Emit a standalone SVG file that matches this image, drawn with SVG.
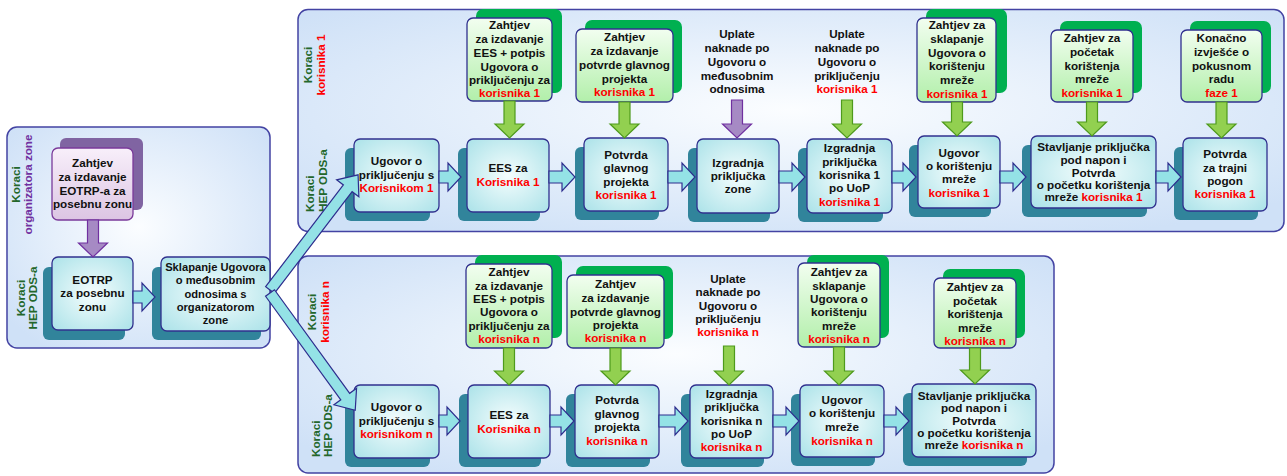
<svg xmlns="http://www.w3.org/2000/svg" width="1287" height="476" viewBox="0 0 1287 476">
<defs>
<radialGradient id="gPanel" cx="50%" cy="45%" r="65%"><stop offset="0" stop-color="#fbfdff"/><stop offset="1" stop-color="#cfe1f7"/></radialGradient>
<radialGradient id="gProc" cx="50%" cy="50%" r="65%"><stop offset="0" stop-color="#f5fdfd"/><stop offset="1" stop-color="#b0e4ea"/></radialGradient>
<linearGradient id="gReq" x1="0" y1="0" x2="0" y2="1"><stop offset="0" stop-color="#f2fef0"/><stop offset="1" stop-color="#b2efaa"/></linearGradient>
<linearGradient id="gPur" x1="0" y1="0" x2="0" y2="1"><stop offset="0" stop-color="#f8effa"/><stop offset="1" stop-color="#dcc5e3"/></linearGradient>
<path id="branch" d="M0,-5.5 L128,-5.5 L128,-14 L145,0 L128,14 L128,5.5 L0,5.5 Z"/>
<style>
.panel{fill:url(#gPanel);stroke:#4343a3;stroke-width:1.5}
.box{fill:url(#gProc);stroke:#30308e;stroke-width:1.3}
.sh{fill:#31849b}
.req{fill:url(#gReq);stroke:#30308e;stroke-width:1.3}
.gsh{fill:#00b050}
.preq{fill:url(#gPur);stroke:#7a3a9a;stroke-width:1.3}
.psh{fill:#8064a2}
.t{font-family:"Liberation Sans",Arial,sans-serif;font-weight:bold;font-size:11.7px;fill:#111;text-anchor:middle}
.t2{font-size:11.2px}
.r{fill:#ff0000}
.lab{font-family:"Liberation Sans",Arial,sans-serif;font-weight:bold;font-size:11.7px;text-anchor:middle}
.st{text-anchor:start}
.kg{fill:#23672b}
.kp{fill:#7030a0}
.kr{fill:#ff0000}
.con{fill:#94e2e6;stroke:#2d2d8e;stroke-width:1.2}
.ga{fill:#92d050;stroke:#4e9a1c;stroke-width:1.2}
.pa{fill:#a68ac4;stroke:#7030a0;stroke-width:1.2}
</style>
</defs>

<g id="panels">
<rect class="panel" x="7" y="127" width="263" height="221" rx="10"/>
<rect class="panel" x="298" y="9.5" width="986" height="222" rx="10"/>
<rect class="panel" x="298" y="256" width="756" height="217" rx="10"/>
</g>

<g id="lane-labels">
<text class="lab kg" transform="translate(20,184.5) rotate(-90)">Koraci</text>
<text class="lab kp" transform="translate(32,184.5) rotate(-90)">organizatora zone</text>
<text class="lab kg" transform="translate(25,298) rotate(-90)">Koraci</text>
<text class="lab kg" transform="translate(37,298) rotate(-90)">HEP ODS-a</text>
<text class="lab kg" transform="translate(312,65) rotate(-90)">Koraci</text>
<text class="lab kr" transform="translate(325,65) rotate(-90)">korisnika 1</text>
<text class="lab st kg" transform="translate(314,212) rotate(-90)">Koraci</text>
<text class="lab st kg" transform="translate(327,212) rotate(-90)">HEP ODS-a</text>
<text class="lab kg" transform="translate(316,312) rotate(-90)">Koraci</text>
<text class="lab kr" transform="translate(329,312) rotate(-90)">korisnika n</text>
<text class="lab st kg" transform="translate(320,457) rotate(-90)">Koraci</text>
<text class="lab st kg" transform="translate(332,457) rotate(-90)">HEP ODS-a</text>
</g>

<!-- left panel -->
<g id="n-zahtjev-eotrp">
<rect class="psh" x="60" y="138" width="83" height="72" rx="6"/>
<rect class="preq" x="52" y="148" width="81" height="72" rx="6"/>
<text class="t"><tspan x="92.5" y="167">Zahtjev</tspan><tspan x="92.5" y="181">za izdavanje</tspan><tspan x="92.5" y="195">EOTRP-a za</tspan><tspan x="92.5" y="208">posebnu zonu</tspan></text>
</g>
<g id="n-eotrp">
<rect class="sh" x="43" y="267" width="82" height="73" rx="6"/>
<rect class="box" x="52" y="257" width="81" height="73" rx="6"/>
<text class="t"><tspan x="92.5" y="284">EOTRP</tspan><tspan x="92.5" y="297">za posebnu</tspan><tspan x="92.5" y="311">zonu</tspan></text>
</g>
<g id="n-sklapanje-zona">
<rect class="sh" x="152" y="267" width="109" height="73" rx="6"/>
<rect class="box" x="161" y="257" width="109" height="74" rx="6"/>
<text class="t t2"><tspan x="215.5" y="271">Sklapanje Ugovora</tspan><tspan x="215.5" y="284">o međusobnim</tspan><tspan x="215.5" y="297.5">odnosima s</tspan><tspan x="215.5" y="311">organizatorom</tspan><tspan x="215.5" y="324">zone</tspan></text>
</g>

<!-- top row requests -->
<g id="r1-zahtjev-ees">
<rect class="gsh" x="476" y="9" width="86" height="84" rx="7"/>
<rect class="req" x="467" y="18" width="85" height="83" rx="6"/>
<text class="t"><tspan x="509.5" y="29">Zahtjev</tspan><tspan x="509.5" y="43">za izdavanje</tspan><tspan x="509.5" y="57">EES + potpis</tspan><tspan x="509.5" y="71">Ugovora o</tspan><tspan x="509.5" y="84">priključenju za</tspan><tspan x="509.5" y="97" class="r">korisnika 1</tspan></text>
</g>
<g id="r1-zahtjev-potvrde">
<rect class="gsh" x="585" y="20" width="97" height="73" rx="7"/>
<rect class="req" x="576" y="29" width="97" height="73" rx="6"/>
<text class="t"><tspan x="624.5" y="41">Zahtjev</tspan><tspan x="624.5" y="55">za izdavanje</tspan><tspan x="624.5" y="69">potvrde glavnog</tspan><tspan x="624.5" y="83">projekta</tspan><tspan x="624.5" y="96" class="r">korisnika 1</tspan></text>
</g>
<g id="r1-uplate-medusobni">
<text class="t"><tspan x="737" y="38">Uplate</tspan><tspan x="737" y="52">naknade po</tspan><tspan x="737" y="66">Ugovoru o</tspan><tspan x="737" y="80">međusobnim</tspan><tspan x="737" y="93">odnosima</tspan></text>
</g>
<g id="r1-uplate-prikljucenje">
<text class="t"><tspan x="847" y="38">Uplate</tspan><tspan x="847" y="52">naknade po</tspan><tspan x="847" y="66">Ugovoru o</tspan><tspan x="847" y="80">priključenju</tspan><tspan x="847" y="93" class="r">korisnika 1</tspan></text>
</g>
<g id="r1-zahtjev-sklapanje">
<rect class="gsh" x="926" y="9" width="81" height="84" rx="7"/>
<rect class="req" x="917" y="18" width="79" height="84" rx="6"/>
<text class="t"><tspan x="957" y="29">Zahtjev za</tspan><tspan x="957" y="43">sklapanje</tspan><tspan x="957" y="57">Ugovora o</tspan><tspan x="957" y="70">korištenju</tspan><tspan x="957" y="84">mreže</tspan><tspan x="957" y="98" class="r">korisnika 1</tspan></text>
</g>
<g id="r1-zahtjev-pocetak">
<rect class="gsh" x="1060" y="21" width="82" height="72" rx="7"/>
<rect class="req" x="1051" y="30" width="82" height="72" rx="6"/>
<text class="t"><tspan x="1092" y="42">Zahtjev za</tspan><tspan x="1092" y="56">početak</tspan><tspan x="1092" y="70">korištenja</tspan><tspan x="1092" y="83">mreže</tspan><tspan x="1092" y="97" class="r">korisnika 1</tspan></text>
</g>
<g id="r1-konacno">
<rect class="gsh" x="1190" y="21" width="81" height="72" rx="7"/>
<rect class="req" x="1181" y="30" width="81" height="72" rx="6"/>
<text class="t"><tspan x="1221.5" y="42">Konačno</tspan><tspan x="1221.5" y="56">izvješće o</tspan><tspan x="1221.5" y="70">pokusnom</tspan><tspan x="1221.5" y="83">radu</tspan><tspan x="1221.5" y="97" class="r">faze 1</tspan></text>
</g>

<!-- top row process -->
<g id="p1-ugovor-prikljucenje">
<rect class="sh" x="345" y="148" width="85" height="73" rx="6"/>
<rect class="box" x="354" y="139" width="85" height="73" rx="6"/>
<text class="t"><tspan x="396.5" y="165">Ugovor o</tspan><tspan x="396.5" y="179">priključenju s</tspan><tspan x="396.5" y="192" class="r">Korisnikom 1</tspan></text>
</g>
<g id="p1-ees">
<rect class="sh" x="458" y="148" width="82" height="73" rx="6"/>
<rect class="box" x="467" y="139" width="82" height="73" rx="6"/>
<text class="t"><tspan x="508" y="172">EES za</tspan><tspan x="508" y="186" class="r">Korisnika 1</tspan></text>
</g>
<g id="p1-potvrda-projekta">
<rect class="sh" x="575" y="147" width="84" height="73" rx="6"/>
<rect class="box" x="584" y="138" width="84" height="73" rx="6"/>
<text class="t"><tspan x="626" y="159">Potvrda</tspan><tspan x="626" y="172">glavnog</tspan><tspan x="626" y="186">projekta</tspan><tspan x="626" y="199" class="r">korisnika 1</tspan></text>
</g>
<g id="p1-izgradnja-zone">
<rect class="sh" x="688" y="148" width="82" height="74" rx="6"/>
<rect class="box" x="697" y="139" width="82" height="74" rx="6"/>
<text class="t"><tspan x="738" y="167">Izgradnja</tspan><tspan x="738" y="180">priključka</tspan><tspan x="738" y="193">zone</tspan></text>
</g>
<g id="p1-izgradnja-korisnika">
<rect class="sh" x="798" y="148" width="85" height="74" rx="6"/>
<rect class="box" x="807" y="139" width="85" height="74" rx="6"/>
<text class="t"><tspan x="849.5" y="152">Izgradnja</tspan><tspan x="849.5" y="166">priključka</tspan><tspan x="849.5" y="179">korisnika 1</tspan><tspan x="849.5" y="192">po UoP</tspan><tspan x="849.5" y="206" class="r">korisnika 1</tspan></text>
</g>
<g id="p1-ugovor-koristenje">
<rect class="sh" x="909" y="145" width="82" height="72" rx="6"/>
<rect class="box" x="918" y="136" width="82" height="72" rx="6"/>
<text class="t"><tspan x="959" y="157">Ugovor</tspan><tspan x="959" y="170">o korištenju</tspan><tspan x="959" y="183">mreže</tspan><tspan x="959" y="197" class="r">korisnika 1</tspan></text>
</g>
<g id="p1-stavljanje">
<rect class="sh" x="1022" y="145" width="125" height="72" rx="6"/>
<rect class="box" x="1031" y="136" width="125" height="72" rx="6"/>
<text class="t"><tspan x="1093.5" y="151">Stavljanje priključka</tspan><tspan x="1093.5" y="164">pod napon i</tspan><tspan x="1093.5" y="176.5">Potvrda</tspan><tspan x="1093.5" y="188.5">o početku korištenja</tspan><tspan x="1093.5" y="200.5">mreže <tspan class="r">korisnika 1</tspan></tspan></text>
</g>
<g id="p1-potvrda-trajni">
<rect class="sh" x="1174" y="147" width="84" height="73" rx="6"/>
<rect class="box" x="1183" y="138" width="84" height="73" rx="6"/>
<text class="t"><tspan x="1225" y="158">Potvrda</tspan><tspan x="1225" y="172">za trajni</tspan><tspan x="1225" y="185">pogon</tspan><tspan x="1225" y="198" class="r">korisnika 1</tspan></text>
</g>

<!-- bottom row requests -->
<g id="rn-zahtjev-ees">
<rect class="gsh" x="475" y="255" width="87" height="83" rx="7"/>
<rect class="req" x="466" y="264" width="86" height="84" rx="6"/>
<text class="t"><tspan x="509" y="276">Zahtjev</tspan><tspan x="509" y="290">za izdavanje</tspan><tspan x="509" y="303">EES + potpis</tspan><tspan x="509" y="316">Ugovora o</tspan><tspan x="509" y="330">priključenju za</tspan><tspan x="509" y="343" class="r">korisnika n</tspan></text>
</g>
<g id="rn-zahtjev-potvrde">
<rect class="gsh" x="576" y="266" width="97" height="73" rx="7"/>
<rect class="req" x="567" y="275" width="97" height="73" rx="6"/>
<text class="t"><tspan x="615.5" y="288">Zahtjev</tspan><tspan x="615.5" y="302">za izdavanje</tspan><tspan x="615.5" y="316">potvrde glavnog</tspan><tspan x="615.5" y="329">projekta</tspan><tspan x="615.5" y="342" class="r">korisnika n</tspan></text>
</g>
<g id="rn-uplate-prikljucenje">
<text class="t"><tspan x="728" y="283">Uplate</tspan><tspan x="728" y="296">naknade po</tspan><tspan x="728" y="310">Ugovoru o</tspan><tspan x="728" y="323">priključenju</tspan><tspan x="728" y="336" class="r">korisnika n</tspan></text>
</g>
<g id="rn-zahtjev-sklapanje">
<rect class="gsh" x="807" y="255" width="82" height="83" rx="7"/>
<rect class="req" x="798" y="263" width="82" height="84" rx="6"/>
<text class="t"><tspan x="839" y="276">Zahtjev za</tspan><tspan x="839" y="290">sklapanje</tspan><tspan x="839" y="303">Ugovora o</tspan><tspan x="839" y="316">korištenju</tspan><tspan x="839" y="330">mreže</tspan><tspan x="839" y="343" class="r">korisnika n</tspan></text>
</g>
<g id="rn-zahtjev-pocetak">
<rect class="gsh" x="943" y="269" width="82" height="69" rx="7"/>
<rect class="req" x="934" y="278" width="82" height="70" rx="6"/>
<text class="t"><tspan x="975" y="291">Zahtjev za</tspan><tspan x="975" y="305">početak</tspan><tspan x="975" y="318">korištenja</tspan><tspan x="975" y="332">mreže</tspan><tspan x="975" y="345" class="r">korisnika n</tspan></text>
</g>

<!-- bottom row process -->
<g id="pn-ugovor-prikljucenje">
<rect class="sh" x="345" y="394" width="85" height="73" rx="6"/>
<rect class="box" x="354" y="385" width="85" height="73" rx="6"/>
<text class="t"><tspan x="396.5" y="411">Ugovor o</tspan><tspan x="396.5" y="425">priključenju s</tspan><tspan x="396.5" y="438" class="r">korisnikom n</tspan></text>
</g>
<g id="pn-ees">
<rect class="sh" x="459" y="394" width="82" height="73" rx="6"/>
<rect class="box" x="468" y="385" width="82" height="73" rx="6"/>
<text class="t"><tspan x="509" y="419">EES za</tspan><tspan x="509" y="433" class="r">Korisnika n</tspan></text>
</g>
<g id="pn-potvrda-projekta">
<rect class="sh" x="566" y="394" width="84" height="73" rx="6"/>
<rect class="box" x="575" y="385" width="84" height="73" rx="6"/>
<text class="t"><tspan x="617" y="404">Potvrda</tspan><tspan x="617" y="418">glavnog</tspan><tspan x="617" y="431">projekta</tspan><tspan x="617" y="445" class="r">korisnika n</tspan></text>
</g>
<g id="pn-izgradnja-korisnika">
<rect class="sh" x="681" y="394" width="83" height="73" rx="6"/>
<rect class="box" x="690" y="385" width="83" height="73" rx="6"/>
<text class="t"><tspan x="731.5" y="398">Izgradnja</tspan><tspan x="731.5" y="411">priključka</tspan><tspan x="731.5" y="425">korisnika n</tspan><tspan x="731.5" y="438">po UoP</tspan><tspan x="731.5" y="451" class="r">korisnika n</tspan></text>
</g>
<g id="pn-ugovor-koristenje">
<rect class="sh" x="791" y="394" width="84" height="72" rx="6"/>
<rect class="box" x="800" y="385" width="84" height="72" rx="6"/>
<text class="t"><tspan x="842" y="404">Ugovor</tspan><tspan x="842" y="417">o korištenju</tspan><tspan x="842" y="431">mreže</tspan><tspan x="842" y="445" class="r">korisnika n</tspan></text>
</g>
<g id="pn-stavljanje">
<rect class="sh" x="903" y="393" width="124" height="73" rx="6"/>
<rect class="box" x="912" y="384" width="124" height="73" rx="6"/>
<text class="t"><tspan x="974" y="400">Stavljanje priključka</tspan><tspan x="974" y="412">pod napon i</tspan><tspan x="974" y="425">Potvrda</tspan><tspan x="974" y="437">o početku korištenja</tspan><tspan x="974" y="449">mreže <tspan class="r">korisnika n</tspan></tspan></text>
</g>

<g id="connectors">
<!-- left panel -->
<polygon class="pa" points="87.5,220 98.5,220 98.5,243 107.5,243 93,257 78.5,243 87.5,243"/>
<polygon class="con" points="133,291 142,291 142,283 155,297 142,311 142,303 133,303"/>
<use href="#branch" class="con" transform="translate(270,290) rotate(-52.6)"/>
<use href="#branch" class="con" transform="translate(270,293) rotate(54)"/>
<!-- top down arrows -->
<polygon class="ga" points="504,101 515,101 515,124 524,124 509.5,138 495,124 504,124"/>
<polygon class="ga" points="619,102 630,102 630,124 639,124 624.5,138 610,124 619,124"/>
<polygon class="pa" points="731.5,100 742.5,100 742.5,124 751.5,124 737,138 722.5,124 731.5,124"/>
<polygon class="ga" points="841.5,100 852.5,100 852.5,124 861.5,124 847,138 832.5,124 841.5,124"/>
<polygon class="ga" points="951.5,102 962.5,102 962.5,122 971.5,122 957,136 942.5,122 951.5,122"/>
<polygon class="ga" points="1086.5,102 1097.5,102 1097.5,122 1106.5,122 1092,136 1077.5,122 1086.5,122"/>
<polygon class="ga" points="1216,102 1227,102 1227,124 1236,124 1221.5,138 1207,124 1216,124"/>
<!-- top horizontal -->
<polygon class="con" points="439,171 448,171 448,163 461,177 448,191 448,183 439,183"/>
<polygon class="con" points="549,171 562,171 562,163 575,177 562,191 562,183 549,183"/>
<polygon class="con" points="668,171 682,171 682,163 695,177 682,191 682,183 668,183"/>
<polygon class="con" points="779,171 792,171 792,163 805,177 792,191 792,183 779,183"/>
<polygon class="con" points="892,171 903,171 903,163 916,177 903,191 903,183 892,183"/>
<polygon class="con" points="1000,171 1013,171 1013,163 1026,177 1013,191 1013,183 1000,183"/>
<polygon class="con" points="1156,171 1168,171 1168,163 1181,177 1168,191 1168,183 1156,183"/>
<!-- bottom down arrows -->
<polygon class="ga" points="503.5,348 514.5,348 514.5,371 523.5,371 509,385 494.5,371 503.5,371"/>
<polygon class="ga" points="610,348 621,348 621,371 630,371 615.5,385 601,371 610,371"/>
<polygon class="ga" points="723.5,346 734.5,346 734.5,371 743.5,371 729,385 714.5,371 723.5,371"/>
<polygon class="ga" points="833.5,347 844.5,347 844.5,371 853.5,371 839,385 824.5,371 833.5,371"/>
<polygon class="ga" points="969.5,348 980.5,348 980.5,370 989.5,370 975,384 960.5,370 969.5,370"/>
<!-- bottom horizontal -->
<polygon class="con" points="439,415 447,415 447,407 460,421 447,435 447,427 439,427"/>
<polygon class="con" points="550,415 561,415 561,407 574,421 561,435 561,427 550,427"/>
<polygon class="con" points="659,415 675,415 675,407 688,421 675,435 675,427 659,427"/>
<polygon class="con" points="773,415 786,415 786,407 799,421 786,435 786,427 773,427"/>
<polygon class="con" points="884,415 896,415 896,407 909,421 896,435 896,427 884,427"/>
</g>
</svg>
